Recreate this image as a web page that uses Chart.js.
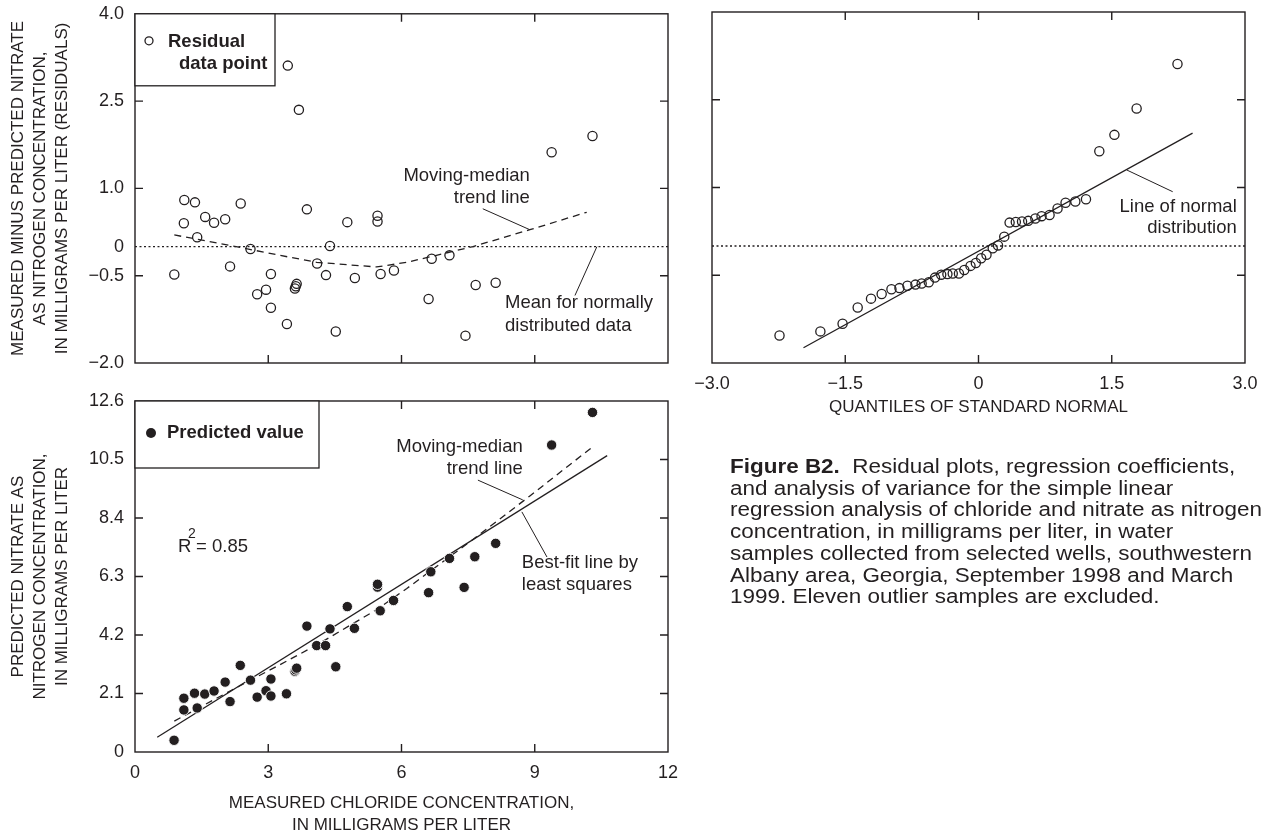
<!DOCTYPE html>
<html>
<head>
<meta charset="utf-8">
<script src="https://cdn.jsdelivr.net/npm/chart.js@4.4.1/dist/chart.umd.min.js"></script>
<style>
  html, body { margin: 0; padding: 0; background: #fff; overflow: hidden; width: 1263px; height: 834px; }
  canvas { position: absolute; left: 0; top: 0; }
  #caption {
    position: absolute; left: 730px; top: 456px;
    font-family: 'Liberation Sans Narrow', 'Liberation Sans', Arial, sans-serif;
    font-size: 19.5px; line-height: 21.7px; color: #231f20;
    transform-origin: 0 0; white-space: nowrap;
  }
  #caption div { width: max-content; }
</style>
</head>
<body>
<canvas id="resid" width="1263" height="840"></canvas>
<canvas id="qq" width="1263" height="840"></canvas>
<canvas id="pred" width="1263" height="840"></canvas>
<div id="caption">
  <div><b>Figure B2.</b>&nbsp; Residual plots, regression coefficients,</div>
  <div>and analysis of variance for the simple linear</div>
  <div>regression analysis of chloride and nitrate as nitrogen</div>
  <div>concentration, in milligrams per liter, in water</div>
  <div>samples collected from selected wells, southwestern</div>
  <div>Albany area, Georgia, September 1998 and March</div>
  <div>1999. Eleven outlier samples are excluded.</div>
</div>
<script>
// ---- Residuals versus measured chloride ----
const residChloride = [0.885, 1.10, 1.11, 1.35, 1.40, 1.58, 1.78, 2.03, 2.14, 2.38,
  2.60, 2.75, 2.95, 3.06, 3.06, 3.42, 3.44, 3.60, 3.62, 3.64,
  3.69, 3.87, 4.10, 4.30, 4.39, 4.52, 4.78, 4.95, 5.46, 5.46,
  5.53, 5.83, 6.61, 6.68, 7.08, 7.44, 7.67, 8.12, 9.38, 10.30];
const residuals = [-0.48, 0.40, 0.80, 0.76, 0.16, 0.51, 0.41, 0.47, -0.34, 0.74,
  -0.04, -0.82, -0.74, -0.47, -1.05, -1.33, 3.11, -0.72, -0.68, -0.64,
  2.35, 0.64, -0.29, -0.49, 0.01, -1.46, 0.42, -0.54, 0.53, 0.43,
  -0.47, -0.41, -0.90, -0.21, -0.15, -1.53, -0.66, -0.62, 1.62, 1.90];
const residTrendX = [0.885, 2.14, 3.26, 4.09, 5.44, 6.12, 7.61, 8.89, 10.17];
const residTrendY = [0.20, 0.02, -0.15, -0.27, -0.35, -0.27, 0.00, 0.29, 0.59];
const meanLineY = 0;

// ---- Normal probability plot of residuals ----
const normalQuantiles = [-2.24, -1.78, -1.53, -1.36, -1.21, -1.09, -0.98, -0.89, -0.80, -0.71,
  -0.64, -0.56, -0.49, -0.42, -0.35, -0.29, -0.22, -0.16, -0.09, -0.03,
  0.03, 0.09, 0.16, 0.22, 0.29, 0.35, 0.42, 0.49, 0.56, 0.64,
  0.71, 0.80, 0.89, 0.98, 1.09, 1.21, 1.36, 1.53, 1.78, 2.24];
const normalLineX = [-1.97, 2.41];
const normalLineY = [-1.74, 1.93];

// ---- Nitrate versus measured chloride ----
const chloride = [0.88, 1.10, 1.10, 1.34, 1.40, 1.57, 1.78, 2.03, 2.14, 2.37,
  2.60, 2.75, 2.95, 3.06, 3.06, 3.41, 3.60, 3.62, 3.64, 3.87,
  4.09, 4.29, 4.39, 4.52, 4.78, 4.94, 5.46, 5.46, 5.52, 5.82,
  6.61, 6.66, 7.08, 7.41, 7.65, 8.12, 9.38, 10.30];
const nitrate = [0.42, 1.51, 1.93, 2.11, 1.58, 2.08, 2.19, 2.51, 1.81, 3.11,
  2.58, 1.97, 2.20, 2.62, 2.01, 2.09, 2.90, 2.95, 3.01, 4.52,
  3.82, 3.82, 4.42, 3.06, 5.22, 4.44, 5.92, 6.02, 5.07, 5.44,
  5.72, 6.47, 6.95, 5.91, 7.01, 7.49, 11.02, 12.19];
const nitrateTrendX = [0.885, 2.14, 3.26, 4.09, 5.44, 6.12, 7.61, 8.89, 10.30];
const nitrateTrendY = [1.11, 2.19, 3.13, 3.84, 5.11, 5.87, 7.63, 9.19, 10.95];
const bestFitX = [0.50, 10.63];
const bestFitY = [0.53, 10.64];
const rSquared = '0.85';

// ---- Axis ticks ----
const residTicks = [-2, -0.5, 0, 1, 2.5, 4];
const residTickLabels = ['\u22122.0', '\u22120.5', '0', '1.0', '2.5', '4.0'];
const quantileTicks = [-3, -1.5, 0, 1.5, 3];
const quantileTickLabels = ['\u22123.0', '\u22121.5', '0', '1.5', '3.0'];
const chlorideTicks = [0, 3, 6, 9, 12];
const chlorideTickLabels = ['0', '3', '6', '9', '12'];
const nitrateTicks = [0, 2.1, 4.2, 6.3, 8.4, 10.5, 12.6];
const nitrateTickLabels = ['0', '2.1', '4.2', '6.3', '8.4', '10.5', '12.6'];

const INK = '#231f20';
const FONT = "'Liberation Sans', Arial, Helvetica, sans-serif";
Chart.defaults.font.family = FONT;
Chart.defaults.font.size = 18;
Chart.defaults.color = INK;

const pts = (xs, ys) => xs.map((x, i) => ({ x, y: ys[i] }));

const openCircles = data => ({
  data, showLine: false, pointRadius: 4.6, pointBorderWidth: 1.3,
  pointBackgroundColor: 'rgba(0,0,0,0)', pointBorderColor: INK
});
const filledDots = data => ({
  data, showLine: false, pointRadius: 5.2, pointBorderWidth: 0.9,
  pointBackgroundColor: INK, pointBorderColor: '#fff'
});
const line = (data, dash) => ({
  data, showLine: true, pointRadius: 0, borderColor: INK, borderWidth: 1.3,
  borderDash: dash || [], fill: false
});

function fixedScale(values, labels, extra) {
  return Object.assign({
    type: 'linear',
    min: values[0], max: values[values.length - 1],
    grid: { display: false }, border: { display: false },
    afterBuildTicks: s => { s.ticks = values.map(v => ({ value: v })); },
    ticks: { autoSkip: false, maxRotation: 0, callback: v => labels[values.indexOf(v)] }
  }, extra);
}

// Frame, inward tick marks, leader lines, notes and inset legend
const panelDecor = {
  id: 'panelDecor',
  afterDatasetsDraw(chart, args, o) {
    const { ctx, chartArea: a, scales: { x, y } } = chart;
    const X = v => x.getPixelForValue(v), Y = v => y.getPixelForValue(v);
    ctx.save();
    ctx.strokeStyle = INK; ctx.fillStyle = INK;
    ctx.lineWidth = 1.4;
    ctx.strokeRect(a.left, a.top, a.right - a.left, a.bottom - a.top);
    const L = 8;
    ctx.beginPath();
    (o.xMarks || []).forEach(v => {
      const p = X(v);
      ctx.moveTo(p, a.top); ctx.lineTo(p, a.top + L);
      ctx.moveTo(p, a.bottom); ctx.lineTo(p, a.bottom - L);
    });
    (o.yMarks || []).forEach(v => {
      const p = Y(v);
      ctx.moveTo(a.left, p); ctx.lineTo(a.left + L, p);
      ctx.moveTo(a.right, p); ctx.lineTo(a.right - L, p);
    });
    ctx.stroke();

    ctx.lineWidth = 1;
    ctx.beginPath();
    (o.leaders || []).forEach(([x0, y0, x1, y1]) => {
      ctx.moveTo(X(x0), Y(y0)); ctx.lineTo(X(x1), Y(y1));
    });
    ctx.stroke();

    ctx.font = '18.5px ' + FONT;
    ctx.textBaseline = 'middle';
    (o.notes || []).forEach(n => {
      ctx.textAlign = n.align;
      ctx.fillText(n.t, X(n.x), Y(n.y));
    });

    if (o.r2) {
      const rx = X(o.r2.x), ry = Y(o.r2.y);
      ctx.textAlign = 'left';
      ctx.font = '18.5px ' + FONT;
      ctx.fillText('R', rx, ry);
      ctx.fillText('= ' + rSquared, rx + 18, ry);
      ctx.font = '14px ' + FONT;
      ctx.fillText('2', rx + 10, ry - 13);
    }

    if (o.legend) {
      const g = o.legend;
      ctx.fillStyle = '#fff';
      ctx.fillRect(a.left, a.top, g.w, g.h);
      ctx.lineWidth = 1.3;
      ctx.strokeRect(a.left, a.top, g.w, g.h);
      ctx.fillStyle = INK;
      ctx.beginPath();
      ctx.arc(a.left + g.mx, a.top + g.my, g.r, 0, Math.PI * 2);
      if (g.filled) ctx.fill(); else ctx.stroke();
      ctx.font = 'bold 18.5px ' + FONT;
      ctx.textAlign = 'left';
      g.lines.forEach(l => ctx.fillText(l.t, a.left + l.dx, a.top + l.dy));
    }
    ctx.restore();
  }
};

function panel(id, cfg) {
  return new Chart(document.getElementById(id), {
    type: 'scatter',
    data: { datasets: cfg.datasets },
    options: {
      responsive: false, animation: false, events: [],
      layout: { padding: cfg.padding },
      plugins: { legend: { display: false }, tooltip: { enabled: false }, panelDecor: cfg.decor },
      scales: { x: cfg.x, y: cfg.y }
    },
    plugins: [panelDecor]
  });
}

const titleFont = { size: 17, lineHeight: '22px' };

// Residuals against chloride
panel('resid', {
  padding: { left: 0, top: 12, right: 595, bottom: 0 },
  datasets: [
    openCircles(pts(residChloride, residuals)),
    line(pts(residTrendX, residTrendY), [7, 5]),
    line(pts([chlorideTicks[0], chlorideTicks[chlorideTicks.length - 1]], [meanLineY, meanLineY]), [2, 2.5])
  ],
  x: fixedScale(chlorideTicks, chlorideTickLabels, {
    position: 'bottom', afterFit: s => { s.height = 477; },
    ticks: { display: false }
  }),
  y: fixedScale(residTicks, residTickLabels, {
    position: 'left', afterFit: s => { s.width = 135; },
    title: { display: true, text: ['MEASURED MINUS PREDICTED NITRATE', 'AS NITROGEN CONCENTRATION,', 'IN MILLIGRAMS PER LITER (RESIDUALS)'],
      font: titleFont, padding: { top: 7, bottom: 0 } }
  }),
  decor: {
    xMarks: [3, 6, 9], yMarks: [-0.5, 1, 2.5],
    leaders: [[7.83, 0.65, 8.89, 0.29], [9.905, -0.84, 10.40, 0]],
    notes: [
      { t: 'Moving-median', x: 8.89, y: 1.21, align: 'right' },
      { t: 'trend line', x: 8.89, y: 0.84, align: 'right' },
      { t: 'Mean for normally', x: 8.33, y: -0.97, align: 'left' },
      { t: 'distributed data', x: 8.33, y: -1.37, align: 'left' }
    ],
    legend: { w: 140, h: 72, mx: 14, my: 27, r: 4, filled: false,
      lines: [{ t: 'Residual', dx: 33, dy: 28 }, { t: 'data point', dx: 44, dy: 50 }] }
  }
});

// Residuals against normal quantiles
const sortedResiduals = residuals.slice().sort((a, b) => a - b);
panel('qq', {
  padding: { left: 712, top: 12, right: 18, bottom: 421 },
  datasets: [
    openCircles(pts(normalQuantiles, sortedResiduals)),
    line(pts(normalLineX, normalLineY)),
    line(pts([quantileTicks[0], quantileTicks[quantileTicks.length - 1]], [meanLineY, meanLineY]), [2, 2.5])
  ],
  x: fixedScale(quantileTicks, quantileTickLabels, {
    position: 'bottom', afterFit: s => { s.height = 56; },
    ticks: { autoSkip: false, maxRotation: 0, padding: 2, callback: v => quantileTickLabels[quantileTicks.indexOf(v)] },
    title: { display: true, text: 'QUANTILES OF STANDARD NORMAL', font: titleFont, padding: { top: 0, bottom: 1 } }
  }),
  y: fixedScale(residTicks, residTickLabels, {
    position: 'left', afterFit: s => { s.width = 0; },
    ticks: { display: false }
  }),
  decor: {
    xMarks: [-1.5, 0, 1.5], yMarks: [-0.5, 1, 2.5],
    leaders: [[1.668, 1.30, 2.186, 0.928]],
    notes: [
      { t: 'Line of normal', x: 2.907, y: 0.672, align: 'right' },
      { t: 'distribution', x: 2.907, y: 0.308, align: 'right' }
    ]
  }
});

// Nitrate against chloride
panel('pred', {
  padding: { left: 0, top: 401, right: 595, bottom: 4 },
  datasets: [
    filledDots(pts(chloride, nitrate)),
    line(pts(nitrateTrendX, nitrateTrendY), [7, 5]),
    line(pts(bestFitX, bestFitY))
  ],
  x: fixedScale(chlorideTicks, chlorideTickLabels, {
    position: 'bottom', afterFit: s => { s.height = 84; },
    ticks: { autoSkip: false, maxRotation: 0, padding: 2, callback: v => chlorideTickLabels[chlorideTicks.indexOf(v)] },
    title: { display: true, text: ['MEASURED CHLORIDE CONCENTRATION,', 'IN MILLIGRAMS PER LITER'], font: titleFont, padding: { top: 0, bottom: 0 } }
  }),
  y: fixedScale(nitrateTicks, nitrateTickLabels, {
    position: 'left', afterFit: s => { s.width = 135; },
    title: { display: true, text: ['PREDICTED NITRATE AS', 'NITROGEN CONCENTRATION,', 'IN MILLIGRAMS PER LITER'],
      font: titleFont, padding: { top: 7, bottom: 0 } }
  }),
  decor: {
    xMarks: [3, 6, 9], yMarks: [2.1, 4.2, 6.3, 8.4, 10.5],
    leaders: [[7.72, 9.76, 8.73, 9.05], [8.71, 8.62, 9.275, 7.0]],
    notes: [
      { t: 'Moving-median', x: 8.73, y: 10.95, align: 'right' },
      { t: 'trend line', x: 8.73, y: 10.16, align: 'right' },
      { t: 'Best-fit line by', x: 8.71, y: 6.78, align: 'left' },
      { t: 'least squares', x: 8.71, y: 5.99, align: 'left' }
    ],
    r2: { x: 0.97, y: 7.37 },
    legend: { w: 184, h: 67, mx: 16, my: 32, r: 5, filled: true,
      lines: [{ t: 'Predicted value', dx: 32, dy: 32 }] }
  }
});

// Fit the caption block to its column width
const cap = document.getElementById('caption');
const widest = cap.children[2].getBoundingClientRect().width;
cap.style.transform = 'scaleX(' + (532 / widest) + ')';
</script>
</body>
</html>
